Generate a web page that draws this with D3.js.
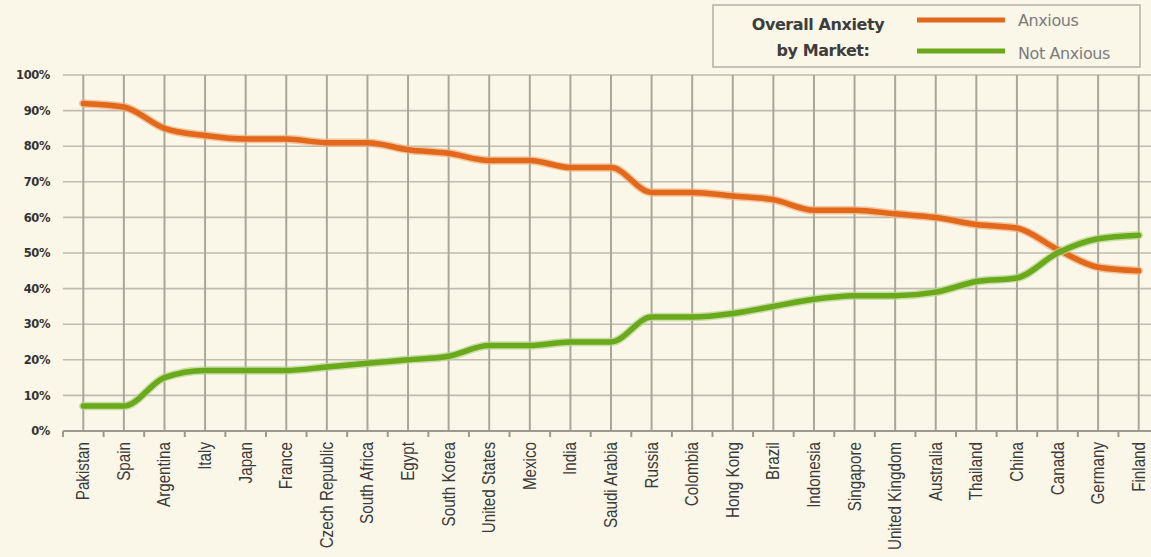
<!DOCTYPE html>
<html>
<head>
<meta charset="utf-8">
<script src="https://cdn.jsdelivr.net/npm/d3@7"></script>
<style>
  html, body { margin: 0; padding: 0; background: #faf7e8; }
  svg { display: block; }
</style>
</head>
<body>
<svg id="chart" width="1151" height="557"></svg>
<script>
// Markets, left to right
const markets = [
  "Pakistan", "Spain", "Argentina", "Italy", "Japan", "France", "Czech Republic",
  "South Africa", "Egypt", "South Korea", "United States", "Mexico", "India",
  "Saudi Arabia", "Russia", "Colombia", "Hong Kong", "Brazil", "Indonesia",
  "Singapore", "United Kingdom", "Australia", "Thailand", "China", "Canada",
  "Germany", "Finland"
];

// Share of respondents (%)
const anxious = [
  92, 91, 85, 83, 82, 82, 81, 81, 79, 78, 76, 76, 74, 74, 67, 67, 66, 65,
  62, 62, 61, 60, 58, 57, 51, 46, 45
];
const notAnxious = [
  7, 7, 15, 17, 17, 17, 18, 19, 20, 21, 24, 24, 25, 25, 32, 32, 33, 35,
  37, 38, 38, 39, 42, 43, 50, 54, 55
];

const yTicks = [0, 10, 20, 30, 40, 50, 60, 70, 80, 90, 100];

const seriesNames = ["Anxious", "Not Anxious"];
const seriesColors = ["#e2681c", "#6aa81c"];
const seriesHalo = ["#f2b07c", "#b5d48a"];

const svg = d3.select("#chart");
const W = 1151, H = 557;

const x = d3.scaleBand().domain(markets).range([63, 1159]).paddingInner(0).paddingOuter(0);
const y = d3.scaleLinear().domain([0, 100]).range([431, 75]);
const cx = d => x(d) + x.bandwidth() / 2;

const plot = svg.append("g");

// horizontal gridlines
plot.append("g").selectAll("line").data(yTicks.filter(t => t > 0)).join("line")
  .attr("x1", 63).attr("x2", W)
  .attr("y1", d => y(d)).attr("y2", d => y(d))
  .attr("stroke", "#bfbdb1").attr("stroke-width", 1.6);

// vertical gridlines through each market
plot.append("g").selectAll("line").data(markets).join("line")
  .attr("x1", d => cx(d)).attr("x2", d => cx(d))
  .attr("y1", y(100)).attr("y2", y(0))
  .attr("stroke", "#a9a79c").attr("stroke-width", 2);

// y axis labels
svg.append("g").selectAll("text").data(yTicks).join("text")
  .attr("x", 50).attr("y", d => y(d)).attr("dy", "0.36em")
  .attr("text-anchor", "end")
  .attr("font-family", "'DejaVu Sans', sans-serif")
  .attr("font-weight", "bold").attr("font-size", 11.5)
  .attr("letter-spacing", -0.4)
  .attr("fill", "#333")
  .text(d => d + "%");

// x axis with ticks on band edges
const xAxis = svg.append("g");
xAxis.append("line")
  .attr("x1", 63).attr("x2", W).attr("y1", y(0)).attr("y2", y(0))
  .attr("stroke", "#9c9a90").attr("stroke-width", 2);
const edges = markets.map(m => x(m)).concat([x(markets[markets.length - 1]) + x.bandwidth()]);
xAxis.selectAll("line.tick").data(edges).join("line").attr("class", "tick")
  .attr("x1", d => d).attr("x2", d => d)
  .attr("y1", y(0)).attr("y2", y(0) + 6)
  .attr("stroke", "#9c9a90").attr("stroke-width", 2);
// condensed, rotated market names
xAxis.selectAll("text").data(markets).join("text")
  .attr("transform", d => `translate(${cx(d) + 6},442) rotate(-90) scale(0.8,1)`)
  .attr("text-anchor", "end")
  .attr("font-family", "'Liberation Sans', Arial, sans-serif")
  .attr("font-size", 19)
  .attr("fill", "#3a3a3a")
  .text(d => d);

// series lines
const line = d3.line().x((d, i) => cx(markets[i])).y(d => y(d)).curve(d3.curveMonotoneX);
[anxious, notAnxious].forEach((vals, k) => {
  plot.append("path").datum(vals)
    .attr("d", line).attr("fill", "none")
    .attr("stroke", seriesHalo[k]).attr("stroke-width", 8.5)
    .attr("stroke-linecap", "round").attr("stroke-opacity", 0.7);
  plot.append("path").datum(vals)
    .attr("d", line).attr("fill", "none")
    .attr("stroke", seriesColors[k]).attr("stroke-width", 5.5)
    .attr("stroke-linecap", "round");
});

// legend
const lg = svg.append("g");
lg.append("rect")
  .attr("x", 713).attr("y", 5).attr("width", 427).attr("height", 62)
  .attr("fill", "#faf7e8").attr("stroke", "#b3b1a8").attr("stroke-width", 1.5);
lg.append("text").attr("x", 818).attr("y", 30)
  .attr("text-anchor", "middle")
  .attr("font-family", "'DejaVu Sans', sans-serif").attr("font-weight", "bold")
  .attr("font-size", 16).attr("letter-spacing", -0.4).attr("fill", "#3d3d3d")
  .text("Overall Anxiety");
lg.append("text").attr("x", 823).attr("y", 56)
  .attr("text-anchor", "middle")
  .attr("font-family", "'DejaVu Sans', sans-serif").attr("font-weight", "bold")
  .attr("font-size", 16).attr("letter-spacing", -0.4).attr("fill", "#3d3d3d")
  .text("by Market:");
const legY = [20, 51];
const legTextY = [26, 59];
seriesNames.forEach((name, k) => {
  lg.append("line")
    .attr("x1", 917).attr("x2", 1005).attr("y1", legY[k]).attr("y2", legY[k])
    .attr("stroke", seriesColors[k]).attr("stroke-width", 5);
  lg.append("text").attr("x", 1018).attr("y", legTextY[k])
    .attr("font-family", "'DejaVu Sans', sans-serif")
    .attr("font-size", 16).attr("letter-spacing", -0.4).attr("fill", "#7c7c7c")
    .text(name);
});
</script>
</body>
</html>
